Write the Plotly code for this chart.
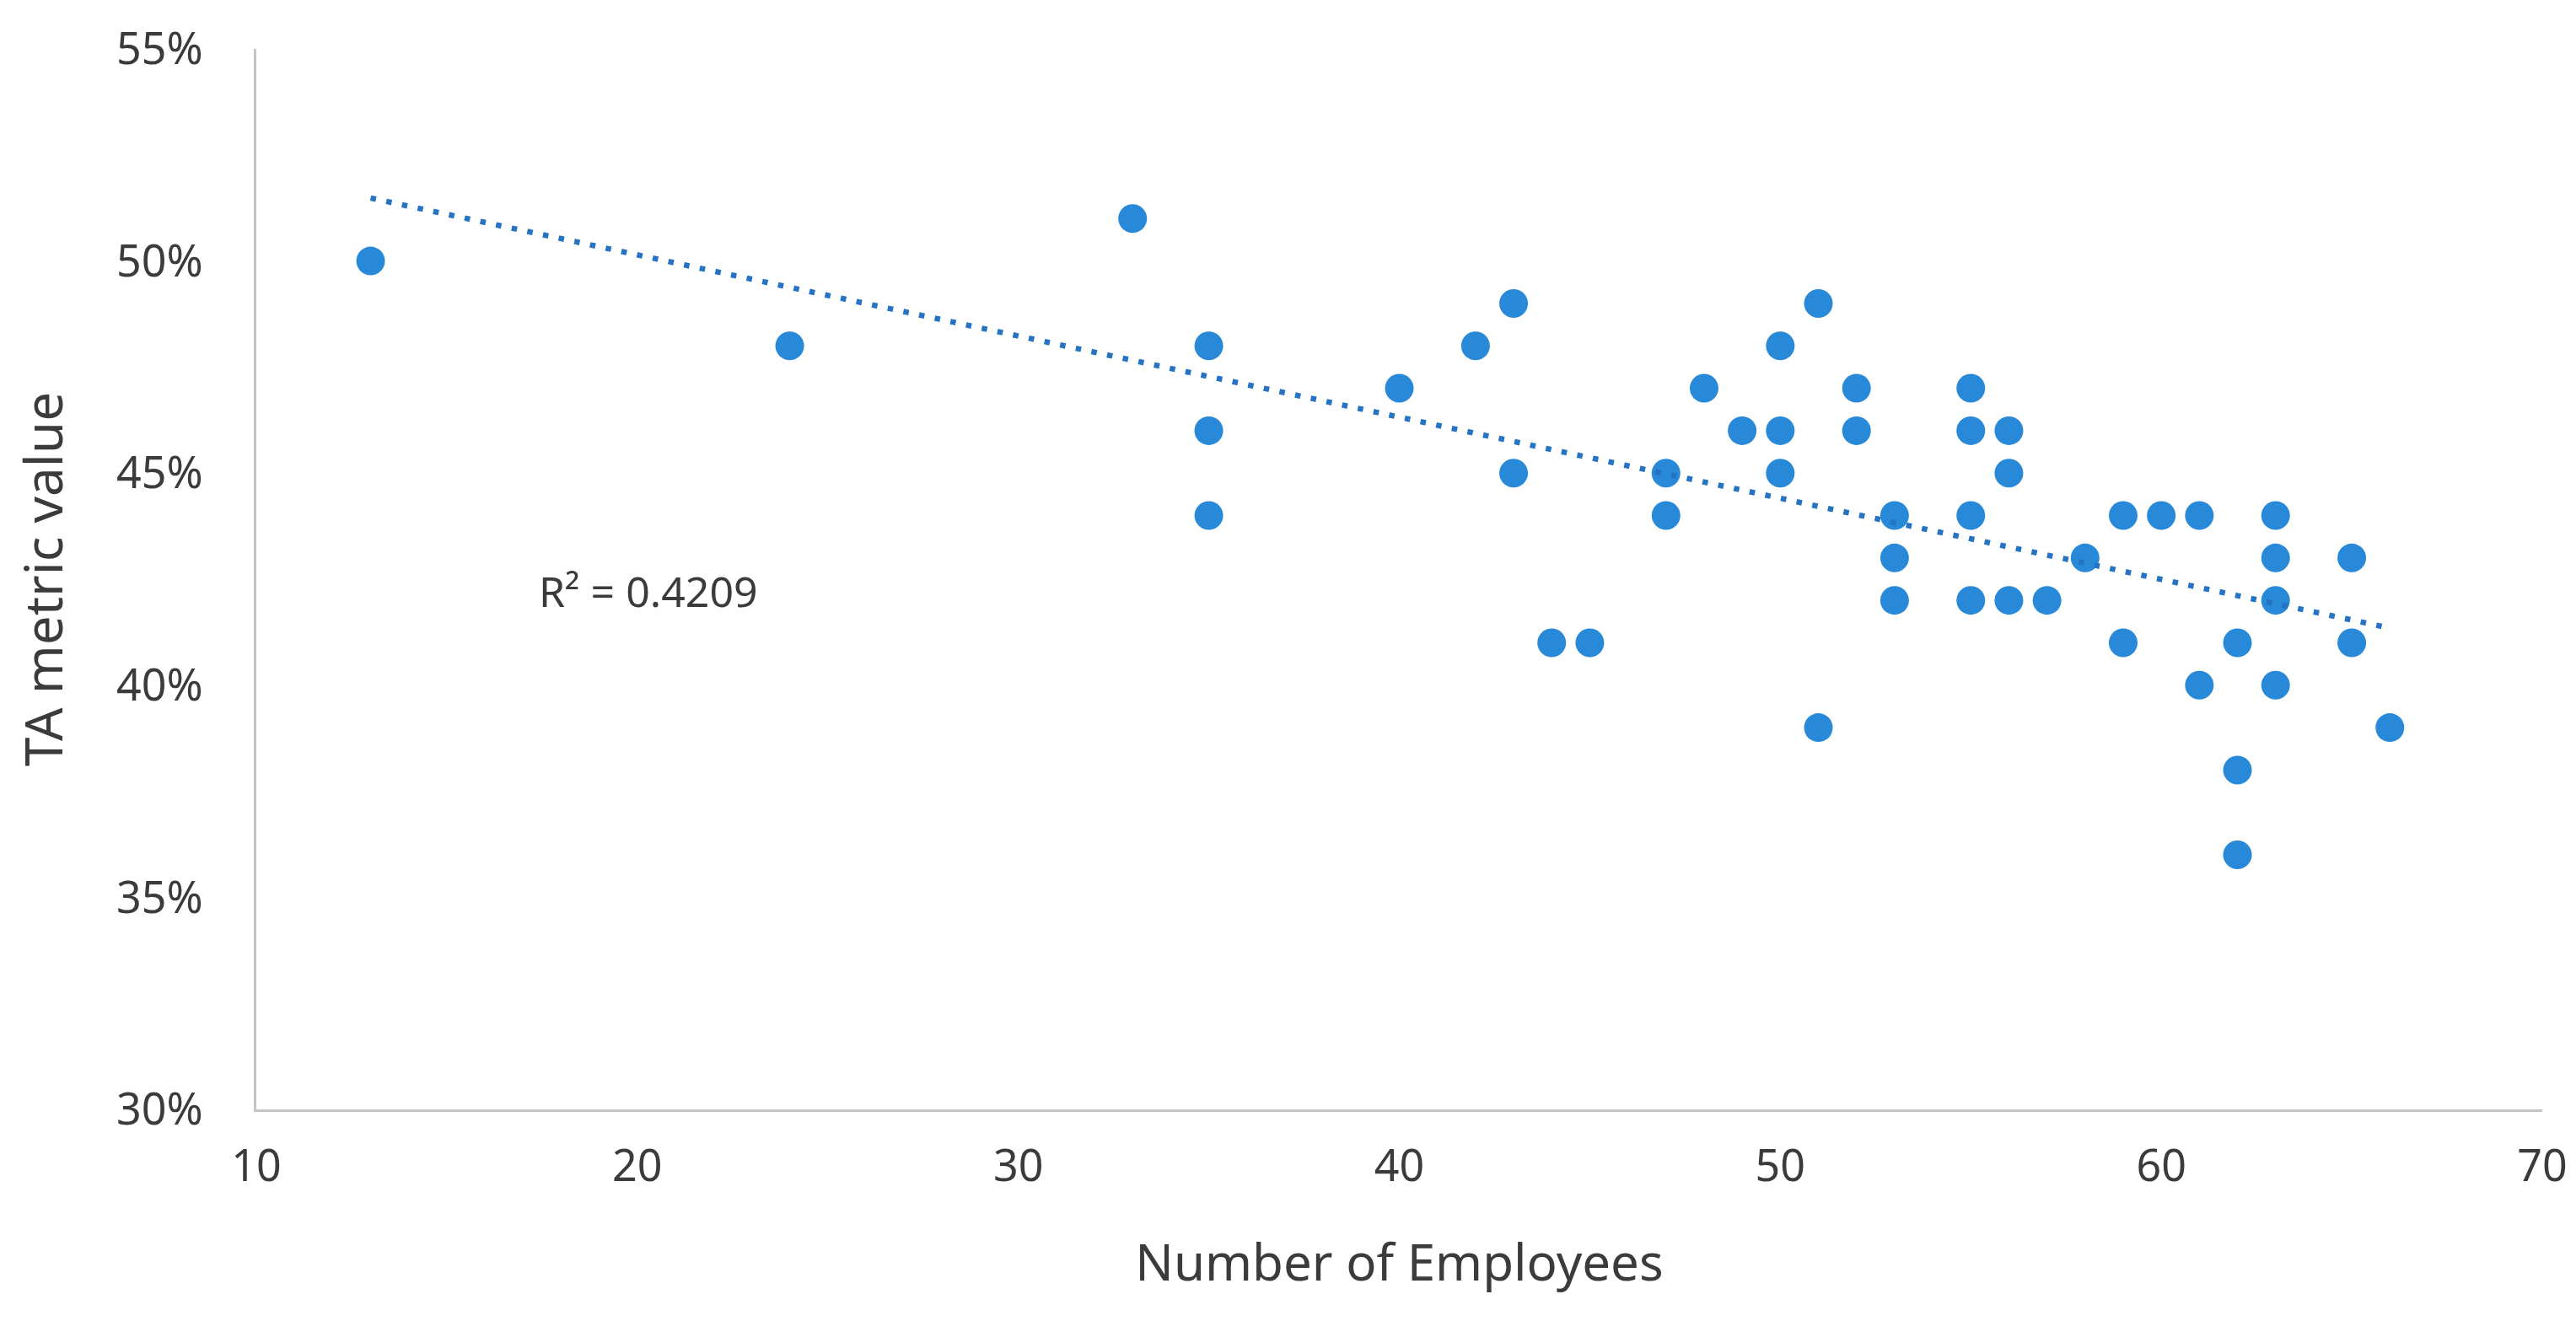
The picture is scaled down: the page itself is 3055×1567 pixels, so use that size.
import numpy as np
import plotly.graph_objects as go

# Data
employees = [13, 24, 33, 35, 35, 35, 40, 42, 43, 43, 44, 45, 47, 47, 48, 49,
             50, 50, 50, 51, 51, 52, 52, 53, 53, 53, 55, 55, 55, 55, 56, 56, 56,
             57, 58, 59, 59, 60, 61, 61, 62, 62, 62, 63, 63, 63, 63, 65, 65, 66]
ta_metric = [0.50, 0.48, 0.51, 0.48, 0.46, 0.44, 0.47, 0.48, 0.49, 0.45, 0.41, 0.41,
             0.45, 0.44, 0.47, 0.46, 0.48, 0.46, 0.45, 0.49, 0.39, 0.47, 0.46, 0.44,
             0.43, 0.42, 0.47, 0.46, 0.44, 0.42, 0.46, 0.45, 0.42, 0.42, 0.43, 0.44,
             0.41, 0.44, 0.44, 0.40, 0.41, 0.38, 0.36, 0.44, 0.43, 0.42, 0.40, 0.43,
             0.41, 0.39]
r2_label = "R² = 0.4209"
x_ticks = [10, 20, 30, 40, 50, 60, 70]
y_ticks = [0.30, 0.35, 0.40, 0.45, 0.50, 0.55]

# Linear trendline (least squares) over the data range
xa = np.array(employees, dtype=float)
ya = np.array(ta_metric, dtype=float)
slope, intercept = np.polyfit(xa, ya, 1)
trend_x = [xa.min(), xa.max()]
trend_y = [slope * v + intercept for v in trend_x]

FONT = "Noto Sans"
TXT = "#3b3b3b"
AXIS = "#c4c4c4"

fig = go.Figure()
fig.add_trace(go.Scatter(
    x=employees, y=ta_metric, mode="markers",
    marker=dict(size=34, color="#2889D8", line=dict(width=0)),
    showlegend=False, hoverinfo="skip"))
fig.add_trace(go.Scatter(
    x=trend_x, y=trend_y, mode="lines",
    line=dict(color="#2673C4", width=6.5, dash="6.5px,12.5px"),
    showlegend=False, hoverinfo="skip"))

fig.add_annotation(x=20.3, y=0.4222, xref="x", yref="y", text=r2_label,
                   showarrow=False, font=dict(family=FONT, size=50, color=TXT))

fig.update_layout(
    width=3055, height=1567,
    paper_bgcolor="white", plot_bgcolor="white",
    margin=dict(l=296, r=48, t=50, b=259, autoexpand=False),
    font=dict(family=FONT, color=TXT),
)
fig.update_xaxes(
    range=[10, 70], tickvals=x_ticks, showgrid=False, zeroline=False,
    showline=True, linecolor=AXIS, linewidth=3, ticks="",
    tickfont=dict(family=FONT, size=52, color=TXT), ticklabelstandoff=20,
    title=dict(text="Number of Employees", font=dict(family=FONT, size=60, color=TXT),
               standoff=62),
)
fig.update_yaxes(
    range=[0.30, 0.55], tickvals=y_ticks, tickformat=".0%", showgrid=False,
    zeroline=False, showline=True, linecolor=AXIS, linewidth=3, ticks="",
    tickfont=dict(family=FONT, size=52, color=TXT), ticklabelstandoff=50,
    title=dict(text="TA metric value", font=dict(family=FONT, size=62, color=TXT),
               standoff=58),
)

fig.write_html("out.html")
